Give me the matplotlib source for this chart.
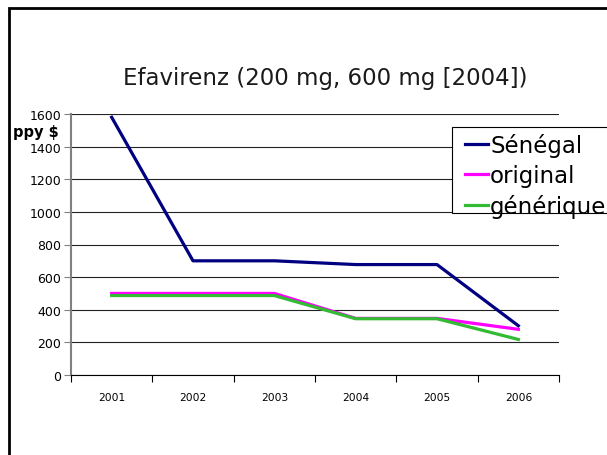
import matplotlib

matplotlib.use("Agg")
import matplotlib.pyplot as plt
from matplotlib.patches import Rectangle

years = ["2001", "2002", "2003", "2004", "2005", "2006"]
senegal = [1580, 700, 700, 677, 677, 302]
original = [500, 500, 500, 347, 347, 280]
generique = [487, 487, 487, 345, 345, 218]
y_ticks = [0, 200, 400, 600, 800, 1000, 1200, 1400, 1600]

W, H = 607, 456
fig = plt.figure(figsize=(W / 100, H / 100), dpi=100)
ax = fig.add_axes([71 / W, 1 - 376 / H, (559 - 71) / W, (376 - 115) / H])

x = list(range(1, len(years) + 1))
ax.plot(x, senegal, color="#000080", lw=2.3, label="Sénégal")
ax.plot(x, original, color="#FF00FF", lw=2.3, label="original")
ax.plot(x, generique, color="#33BB33", lw=2.3, label="générique")

ax.set_xlim(0.5, len(years) + 0.5)
ax.set_ylim(0, 1600)
ax.set_yticks(y_ticks)
ax.tick_params(axis="y", labelsize=9, length=5, width=0.8, color="#808080", pad=2)
ax.set_xticks(x, years)
ax.tick_params(axis="x", which="major", length=0, labelsize=7.7, pad=12)
ax.set_xticks([i + 0.5 for i in range(len(years) + 1)], minor=True)
ax.tick_params(axis="x", which="minor", length=5, width=0.8, color="black")
ax.grid(axis="y", color="#222222", lw=0.8)
ax.set_axisbelow(True)
for s in ("top", "right"):
    ax.spines[s].set_visible(False)
ax.spines["left"].set_color("#808080")
ax.spines["left"].set_linewidth(1.5)
ax.spines["bottom"].set_color("black")
ax.spines["bottom"].set_linewidth(0.8)

fig.text(325 / W, 1 - 78 / H, "Efavirenz (200 mg, 600 mg [2004])",
         ha="center", va="center", fontsize=16.5, color="#1a1a1a")
fig.text(13 / W, 1 - 132 / H, "ppy $", ha="left", va="center",
         fontsize=10.5, fontweight="bold")

# legend box runs off the right edge, as in the original slide
fig.add_artist(Rectangle((452 / W, 1 - 214 / H), 0.5, (214 - 128) / H,
                         transform=fig.transFigure, facecolor="white",
                         edgecolor="black", lw=0.8, zorder=3))
leg = fig.legend(loc="upper left", bbox_to_anchor=(465 / W, 1 - 134 / H),
                 bbox_transform=fig.transFigure, fontsize=16.5, frameon=False,
                 handlelength=1.0, handletextpad=0.1, borderpad=0,
                 labelspacing=0.3, borderaxespad=0)
leg.set_zorder(4)

fig.add_artist(Rectangle((9 / W, -0.1), 1.2, 1 - 9 / H + 0.1,
                         transform=fig.transFigure, fill=False,
                         edgecolor="black", lw=2))

fig.savefig("out.png", dpi=100)
